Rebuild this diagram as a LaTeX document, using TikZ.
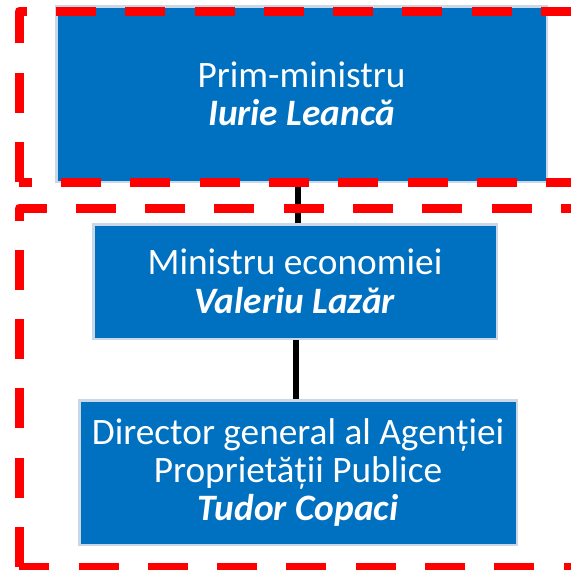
\documentclass[tikz,border=0pt]{standalone}
\usepackage{fontspec}
\setmainfont{Carlito}
\usetikzlibrary{positioning}
\definecolor{postblue}{HTML}{0070C0}
\definecolor{postedge}{HTML}{C9D7E6}
\definecolor{zonered}{HTML}{FF0000}

\begin{document}
\begin{tikzpicture}[x=1pt,y=-1pt]
	\tikzstyle{post}=[draw=postedge, line width=2.5pt, fill=postblue, text=white, align=center, inner sep=0pt, font=\fontsize{37.3}{38.4}\selectfont]
	\tikzstyle{link}=[line width=6pt, black]
	\tikzstyle{zone}=[zonered, line width=9pt, dash pattern=on 40pt off 29.3pt, line join=round]
	\useasboundingbox (0,0) rectangle (571,570);
	\node[post, minimum width=490.5pt, minimum height=175.5pt] 	(pm) at (301.5,94)          {Prim-ministru\\\textbf{\textit{Iurie Leancă}}};
	\node[post, minimum width=403.5pt, minimum height=114.5pt] 	(me) [below=40pt of pm, xshift=-6.5pt]  {Ministru economiei\\\textbf{\textit{Valeriu Lazăr}}};
	\node[post, minimum width=437.5pt, minimum height=144.5pt] 	(dg) [below=59pt of me, xshift=3pt]     {Director general al Agenției\\Proprietății Publice\\\textbf{\textit{Tudor Copaci}}};
	% legaturi
	\draw[link] ([xshift=2.5pt]me.north) -- ([xshift=2.5pt]me.north |- pm.south);
	\draw[link] ([xshift=0.5pt]me.south) -- ([xshift=0.5pt]me.south |- dg.north);
	% zone
	\draw[zone] (19,182) -- (19,11) -- (582,11) -- (582,182) -- cycle;
	\draw[zone] (19,567) -- (19,208) -- (576,208) -- (576,567) -- cycle;
\end{tikzpicture}
\end{document}
